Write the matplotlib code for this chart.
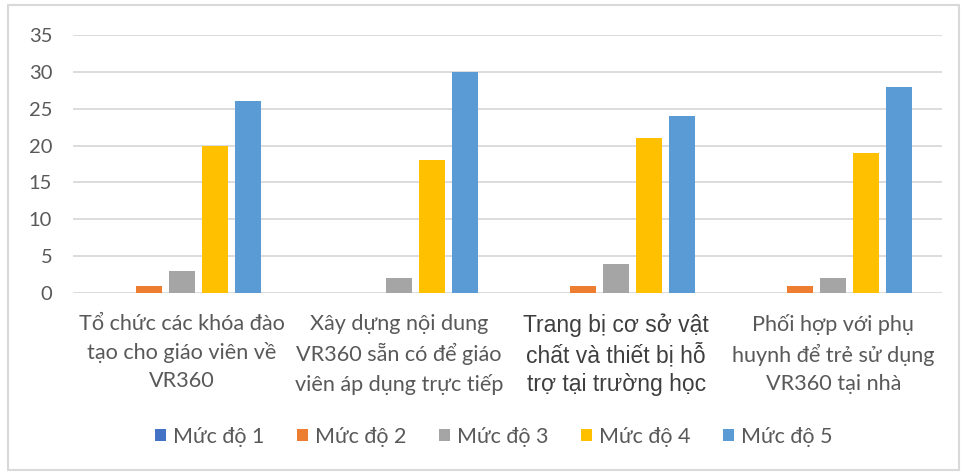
import matplotlib
matplotlib.use("Agg")
import matplotlib.pyplot as plt
import numpy as np
from matplotlib.patches import Rectangle

categories = [
    "Tổ chức các khóa đào\ntạo cho giáo viên về\nVR360",
    "Xây dựng nội dung\nVR360 sẵn có để giáo\nviên áp dụng trực tiếp",
    "Trang bị cơ sở vật\nchất và thiết bị hỗ\ntrợ tại trường học",
    "Phối hợp với phụ\nhuynh để trẻ sử dụng\nVR360 tại nhà",
]
series_names = ["Mức độ 1", "Mức độ 2", "Mức độ 3", "Mức độ 4", "Mức độ 5"]
muc_do_1 = [0, 0, 0, 0]
muc_do_2 = [1, 0, 1, 1]
muc_do_3 = [3, 2, 4, 2]
muc_do_4 = [20, 18, 21, 19]
muc_do_5 = [26, 30, 24, 28]
y_ticks = [0, 5, 10, 15, 20, 25, 30, 35]

series = [muc_do_1, muc_do_2, muc_do_3, muc_do_4, muc_do_5]
colors = ["#4472C4", "#ED7D31", "#A5A5A5", "#FFC000", "#5B9BD5"]
text_color = "#595959"

plt.rcParams["font.family"] = ["Lato", "DejaVu Sans"]

fig = plt.figure(figsize=(9.62, 4.73), dpi=100)
ax = fig.add_axes([73 / 962, 1 - 293 / 473, (942 - 73) / 962, (293 - 35) / 473])

x = np.arange(len(categories))
step = 0.152
width = 0.12
for i, (vals, name, c) in enumerate(zip(series, series_names, colors)):
    ax.bar(x + (i - 2) * step, vals, width, color=c, label=name, zorder=3)

ax.set_xlim(-0.5, len(categories) - 0.5)
ax.set_ylim(0, 35)
ax.set_yticks(y_ticks)
ax.set_yticklabels([str(v) for v in y_ticks])
ax.yaxis.grid(True, color="#D9D9D9", linewidth=1.3, zorder=0)
for s in ax.spines.values():
    s.set_visible(False)
ax.tick_params(axis="y", length=0, pad=15, labelsize=14.5, labelcolor=text_color)
ax.tick_params(axis="x", length=0, pad=15, labelsize=15.6, labelcolor=text_color)
ax.set_xticks(x)
ax.set_xticklabels(categories, linespacing=1.5)
third = ax.get_xticklabels()[2]
third.set_fontfamily(["Liberation Sans", "DejaVu Sans"])
third.set_color("#3F3F3F")
third.set_fontsize(16.5)
third.set_linespacing(1.3)

leg = fig.legend(
    loc="center", bbox_to_anchor=(494 / 962, 1 - 437 / 473), ncol=5, frameon=False,
    fontsize=15.5, handlelength=0.5, handleheight=0.5, handletextpad=0.35,
    columnspacing=1.5, labelcolor=text_color,
)

fig.patches.append(Rectangle((8 / 962, 3 / 473), 951 / 962, 465 / 473,
                             transform=fig.transFigure, fill=False,
                             edgecolor="#D9D9D9", linewidth=1.5))

fig.savefig("out.png", dpi=100, facecolor="white")
